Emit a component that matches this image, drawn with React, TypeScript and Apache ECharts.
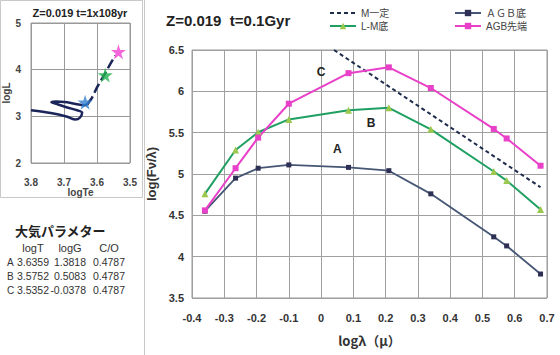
import React, { useEffect, useRef } from "react";
import * as echarts from "echarts";

// ---- main chart data ----
const lambdaX = [-0.36, -0.265, -0.195, -0.1, 0.085, 0.21, 0.34, 0.535, 0.575, 0.68];
const agbBottom = [4.55, 4.95, 5.07, 5.11, 5.08, 5.04, 4.76, 4.24, 4.13, 3.79];
const lmBottom = [4.76, 5.29, 5.505, 5.66, 5.77, 5.8, 5.54, 5.03, 4.92, 4.57];
const agbTip = [4.56, 5.07, 5.44, 5.85, 6.22, 6.29, 6.04, 5.545, 5.43, 5.1];
const mConstX = [0.04, 0.68];
const mConstY = [6.5, 4.84];
const pointLabels = ["A", "B", "C"];
const pointLabelX = [0.05, 0.155, 0.0];
const pointLabelY = [5.3, 5.62, 6.23];

// ---- HR diagram data ----
const hrLoopTe = [3.8, 3.74, 3.69, 3.665, 3.652, 3.645, 3.66, 3.69, 3.72, 3.738, 3.725, 3.69, 3.66, 3.64, 3.63];
const hrLoopL = [3.13, 3.07, 2.99, 2.93, 2.97, 3.08, 3.13, 3.19, 3.26, 3.3, 3.32, 3.3, 3.26, 3.24, 3.25];
const hrRiseTe = [3.63, 3.615, 3.6, 3.578, 3.56, 3.545];
const hrRiseL = [3.25, 3.4, 3.62, 3.886, 4.12, 4.3];
const starTe = [3.636, 3.575, 3.535];
const starL = [3.3, 3.886, 4.385];
const starColors = ["#2f7fd0", "#22b14c", "#f23fd3"];

// ---- atmosphere parameter table ----
const tableHeader = ["logT", "logG", "C/O"];
const tableRows = ["A", "B", "C"];
const tableLogT = ["3.6359", "3.5752", "3.5352"];
const tableLogG = ["1.3818", "0.5083", "-0.0378"];
const tableCO = ["0.4787", "0.4787", "0.4787"];

const STAR = "path://M50,0 L61,35 L98,35 L68,57 L79,91 L50,70 L21,91 L32,57 L2,35 L39,35 Z";
const FONT = "'Liberation Sans', 'Noto Sans CJK JP', sans-serif";
const JFONT = "'Noto Sans CJK JP', sans-serif";

export default function App() {
  const ref = useRef<HTMLDivElement>(null);
  useEffect(() => {
    document.body.style.margin = "0";
    const chart = echarts.init(ref.current!, null, { renderer: "svg" });
    const zip = (a: number[], b: number[]) => a.map((v, i) => [v, b[i]]);

    const tableGraphics: any[] = [];
    const colX = [49, 86, 125];
    const rowY = [262, 276, 290];
    tableGraphics.push({
      type: "text", left: 15, top: 224,
      style: { text: "大気パラメター", font: `bold 13px ${JFONT}`, fill: "#222" },
    });
    tableHeader.forEach((h, i) => {
      tableGraphics.push({
        type: "text", x: [33, 70, 109][i], y: 248,
        style: { text: h, font: `11px ${FONT}`, fill: "#333", textAlign: "center", textVerticalAlign: "middle" },
      });
    });
    tableRows.forEach((r, j) => {
      tableGraphics.push({
        type: "text", x: 7, y: rowY[j],
        style: { text: r, font: `10px ${FONT}`, fill: "#333", textVerticalAlign: "middle" },
      });
      [tableLogT[j], tableLogG[j], tableCO[j]].forEach((v, i) => {
        tableGraphics.push({
          type: "text", x: colX[i], y: rowY[j],
          style: { text: v, font: `10.5px ${FONT}`, fill: "#333", textAlign: "right", textVerticalAlign: "middle" },
        });
      });
    });

    const legendText = { fontSize: 10, lineHeight: 10, color: "#444", fontFamily: FONT };

    const option: any = {
      animation: false,
      backgroundColor: "#fff",
      grid: [
        { left: 30, right: 430, top: 23, bottom: 192, show: true, borderColor: "#999", borderWidth: 1 },
        { left: 192, right: 13, top: 50, bottom: 57, show: true, borderColor: "#999", borderWidth: 1 },
      ],
      xAxis: [
        {
          gridIndex: 0, type: "value", min: 3.5, max: 3.8, interval: 0.1, inverse: true,
          axisLine: { show: false }, axisTick: { show: false },
          splitLine: { lineStyle: { color: "#999" } },
          axisLabel: { fontSize: 10, fontWeight: "bold", color: "#444", margin: 14, fontFamily: FONT,
            formatter: (v: number) => v.toFixed(1) },
          name: "logTe", nameLocation: "middle", nameGap: 24,
          nameTextStyle: { fontSize: 10, fontWeight: "bold", color: "#444", fontFamily: FONT },
        },
        {
          gridIndex: 1, type: "value", min: -0.4, max: 0.7, interval: 0.1,
          axisLine: { show: false }, axisTick: { show: false },
          splitLine: { lineStyle: { color: "#a0a0a0" } },
          axisLabel: { fontSize: 11, fontWeight: "bold", color: "#333", margin: 14, fontFamily: FONT,
            formatter: (v: number) => String(+v.toFixed(1)) },
          name: "logλ（μ）", nameLocation: "middle", nameGap: 36,
          nameTextStyle: { fontSize: 13, fontWeight: "bold", color: "#333", fontFamily: JFONT },
        },
      ],
      yAxis: [
        {
          gridIndex: 0, type: "value", min: 2, max: 5, interval: 1,
          axisLine: { show: false }, axisTick: { show: false },
          splitLine: { lineStyle: { color: "#999" } },
          axisLabel: { fontSize: 10, fontWeight: "bold", color: "#444", margin: 10, fontFamily: FONT },
          name: "logL", nameLocation: "middle", nameGap: 20,
          nameTextStyle: { fontSize: 10, fontWeight: "bold", color: "#444", fontFamily: FONT },
        },
        {
          gridIndex: 1, type: "value", min: 3.5, max: 6.5, interval: 0.5,
          axisLine: { show: false }, axisTick: { show: false },
          splitLine: { lineStyle: { color: "#a0a0a0" } },
          axisLabel: { fontSize: 11, fontWeight: "bold", color: "#333", margin: 8, fontFamily: FONT },
          name: "log(Fν/λ)", nameLocation: "middle", nameGap: 34,
          nameTextStyle: { fontSize: 13, fontWeight: "bold", color: "#333", fontFamily: FONT },
        },
      ],
      legend: [
        {
          data: [{ name: "M一定", itemStyle: { opacity: 0 } }, "L-M底"], orient: "vertical", left: 329, top: 8, itemGap: 3,
          itemWidth: 26, itemHeight: 8, padding: 0, textStyle: legendText,
        },
        {
          data: ["ＡＧＢ底", "AGB先端"], orient: "vertical", left: 454, top: 8, itemGap: 3,
          itemWidth: 26, itemHeight: 8, padding: 0, textStyle: legendText,
        },
      ],
      series: [
        {
          name: "hrLoop", type: "line", xAxisIndex: 0, yAxisIndex: 0, data: zip(hrLoopTe, hrLoopL),
          symbol: "none", smooth: 0.3, lineStyle: { color: "#1c2559", width: 2.5 },
        },
        {
          name: "hrRise", type: "line", xAxisIndex: 0, yAxisIndex: 0, data: zip(hrRiseTe, hrRiseL),
          symbol: "none", lineStyle: { color: "#1c2559", width: 2.5, type: [10, 4] },
        },
        {
          name: "stars", type: "scatter", xAxisIndex: 0, yAxisIndex: 0,
          data: starTe.map((t, i) => ({ value: [t, starL[i]], itemStyle: { color: starColors[i] } })),
          symbol: STAR, symbolSize: 15, z: 5,
        },
        {
          name: "M一定", type: "line", xAxisIndex: 1, yAxisIndex: 1, data: zip(mConstX, mConstY),
          symbol: "none", color: "#1f2d4d", lineStyle: { color: "#1f2d4d", width: 2, type: [4, 3] },
        },
        {
          name: "L-M底", type: "line", xAxisIndex: 1, yAxisIndex: 1, data: zip(lambdaX, lmBottom),
          symbol: "triangle", symbolSize: 7, showAllSymbol: true,
          color: "#1fa062",
          itemStyle: { color: "#9cc84e", borderWidth: 0 },
          lineStyle: { color: "#1fa062", width: 2 },
        },
        {
          name: "ＡＧＢ底", type: "line", xAxisIndex: 1, yAxisIndex: 1, data: zip(lambdaX, agbBottom),
          symbol: "rect", symbolSize: 5, showAllSymbol: true,
          color: "#465775",
          itemStyle: { color: "#2e2f55", borderWidth: 0 },
          lineStyle: { color: "#465775", width: 1.8 },
          markPoint: {
            symbol: "rect", symbolSize: 0,
            label: { show: true, position: "inside", fontSize: 12, fontWeight: "bold", color: "#222", fontFamily: FONT,
              formatter: (p: any) => p.name },
            data: pointLabels.map((n, i) => ({ name: n, coord: [pointLabelX[i], pointLabelY[i]] })),
          },
        },
        {
          name: "AGB先端", type: "line", xAxisIndex: 1, yAxisIndex: 1, data: zip(lambdaX, agbTip),
          symbol: "rect", symbolSize: 6, showAllSymbol: true,
          color: "#e940c9",
          itemStyle: { color: "#e940c9", borderWidth: 0 },
          lineStyle: { color: "#e940c9", width: 2 },
        },
      ],
      graphic: [
        { type: "rect", shape: { x: 0.5, y: 0.5, width: 142, height: 197 }, style: { fill: "none", stroke: "#c8c8c8", lineWidth: 1 } },
        { type: "line", shape: { x1: 144.5, y1: 0, x2: 144.5, y2: 355 }, style: { stroke: "#c8c8c8", lineWidth: 1 } },
        {
          type: "text", x: 80, y: 13,
          style: { text: "Z=0.019 t=1x108yr", font: `bold 11px ${FONT}`, fill: "#222", textAlign: "center", textVerticalAlign: "middle" },
        },
        {
          type: "text", x: 166, y: 20,
          style: { text: "Z=0.019  t=0.1Gyr", font: `bold 15px ${FONT}`, fill: "#222", textVerticalAlign: "middle" },
        },
        ...tableGraphics,
      ],
    };
    chart.setOption(option);
    return () => chart.dispose();
  }, []);
  return <div ref={ref} style={{ width: 560, height: 355 }} />;
}
